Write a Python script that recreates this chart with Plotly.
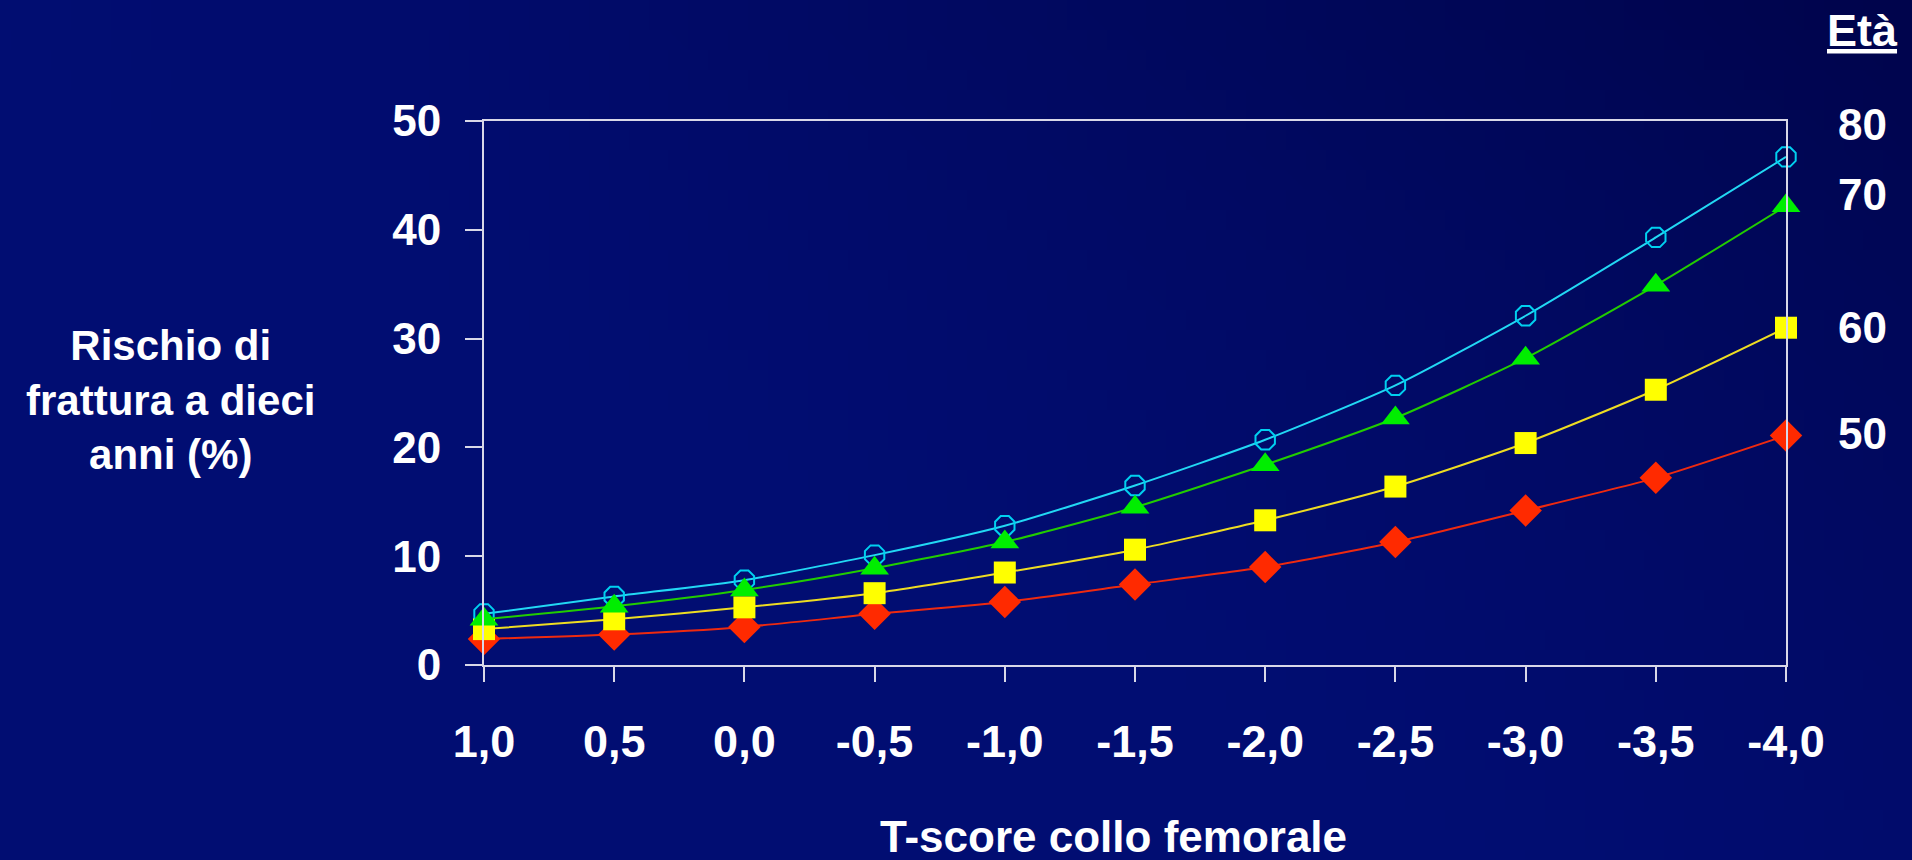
import base64, struct, zlib
import plotly.graph_objects as go

# ---------------- data ----------------
t_score = [1.0, 0.5, 0.0, -0.5, -1.0, -1.5, -2.0, -2.5, -3.0, -3.5, -4.0]
t_labels = ["1,0", "0,5", "0,0", "-0,5", "-1,0", "-1,5", "-2,0", "-2,5", "-3,0", "-3,5", "-4,0"]
age_80 = [4.7, 6.3, 7.8, 10.1, 12.8, 16.5, 20.7, 25.7, 32.1, 39.3, 46.7]
age_70 = [4.2, 5.4, 6.9, 8.9, 11.3, 14.5, 18.4, 22.7, 28.2, 34.9, 42.2]
age_60 = [3.3, 4.2, 5.3, 6.6, 8.5, 10.6, 13.3, 16.4, 20.4, 25.3, 31.0]
age_50 = [2.4, 2.8, 3.5, 4.7, 5.8, 7.4, 9.0, 11.3, 14.2, 17.2, 21.1]
y_ticks = [0, 10, 20, 30, 40, 50]
age_labels = ["80", "70", "60", "50"]

# ---------------- layout constants ----------------
W, H = 1912, 860
ML, MR, MT, MB = 484, 126, 121, 195
PW, PH = W - ML - MR, H - MT - MB
FONT = "Liberation Sans, Arial, Helvetica, sans-serif"
AXC = "#d8d8e8"


def gradient_png(w, h):
    c1 = (1, 13, 114)   # lighter navy
    c2 = (0, 4, 76)     # darker navy (top-right)
    rows = b""
    for j in range(h):
        row = b"\x00"
        for i in range(w):
            u = 0.55 * (i / (w - 1)) + 0.45 * (1 - j / (h - 1))
            t = min(1.0, max(0.0, (u - 0.42) / 0.58)) ** 1.3
            row += bytes(int(round(a + (b - a) * t)) for a, b in zip(c1, c2))
        rows += row

    def chunk(tag, data):
        c = struct.pack(">I", len(data)) + tag + data
        return c + struct.pack(">I", zlib.crc32(tag + data) & 0xFFFFFFFF)

    png = b"\x89PNG\r\n\x1a\n"
    png += chunk(b"IHDR", struct.pack(">IIBBBBB", w, h, 8, 2, 0, 0, 0))
    png += chunk(b"IDAT", zlib.compress(rows, 9))
    png += chunk(b"IEND", b"")
    return "data:image/png;base64," + base64.b64encode(png).decode()


fig = go.Figure()

series = [
    (age_50, "#ee2a10", "#ff2a00", "diamond", 25, None),
    (age_60, "#eedd22", "#ffff00", "square", 22, None),
    (age_80, "#22d8f4", "#00d0f0", "octagon-open", 21, 2),
    (age_70, "#22cc00", "#00ee00", "triangle-up", 25, None),
]
for vals, lc, mc, sym, sz, lw in series:
    marker = dict(symbol=sym, size=sz, color=mc)
    marker["line"] = dict(color=mc, width=lw) if lw else dict(width=0)
    fig.add_trace(go.Scatter(
        x=t_score, y=vals, mode="lines+markers",
        line=dict(color=lc, width=2, shape="spline", smoothing=0.6),
        marker=marker, cliponaxis=False, showlegend=False, hoverinfo="x+y",
    ))

fig.update_xaxes(
    range=[t_score[0], t_score[-1]], tickvals=t_score, ticktext=t_labels,
    showgrid=False, zeroline=False, showline=True, linecolor=AXC, linewidth=2,
    mirror=True, ticks="outside", ticklen=15, tickwidth=2, tickcolor=AXC,
    ticklabelstandoff=21,
    tickfont=dict(family=FONT, size=45, color="white", weight="bold"),
)
fig.update_yaxes(
    range=[0, 50], tickvals=y_ticks, ticktext=[str(v) for v in y_ticks],
    showgrid=False, zeroline=False, showline=True, linecolor=AXC, linewidth=2,
    mirror=True, ticks="outside", ticklen=17, tickwidth=2, tickcolor=AXC,
    ticklabelstandoff=15,
    tickfont=dict(family=FONT, size=44, color="white", weight="bold"),
)


def px_x(x):
    return (x - ML) / PW


def px_y(y):
    return 1 - (y - MT) / PH


def label(text, x, y, size):
    return dict(text=text, x=px_x(x), y=px_y(y), xref="paper", yref="paper",
                xanchor="center", yanchor="middle", showarrow=False, align="center",
                font=dict(family=FONT, size=size, color="white", weight="bold"))


ann = [
    label("Rischio di<br>frattura a dieci<br>anni (%)", 170, 400, 42),
    label("T-score collo femorale", 1113, 836, 44),
    label("<u>Età</u>", 1862, 31, 45),
]
label_y = {"80": 125, "70": 195, "60": 327, "50": 433}
for lab in age_labels:
    ann.append(label(lab, 1862, label_y[lab], 44))

fig.update_layout(
    width=W, height=H,
    margin=dict(l=ML, r=MR, t=MT, b=MB, autoexpand=False),
    paper_bgcolor="#010d72", plot_bgcolor="rgba(0,0,0,0)",
    annotations=ann,
    images=[dict(source=gradient_png(96, 43), xref="paper", yref="paper",
                 x=-ML / PW, y=1 + MT / PH, sizex=W / PW, sizey=H / PH,
                 xanchor="left", yanchor="top", sizing="stretch", layer="below")],
)

fig.write_html("out.html", config={"displayModeBar": False},
               post_script="document.body.style.margin='0';document.body.style.background='#010d72';")
